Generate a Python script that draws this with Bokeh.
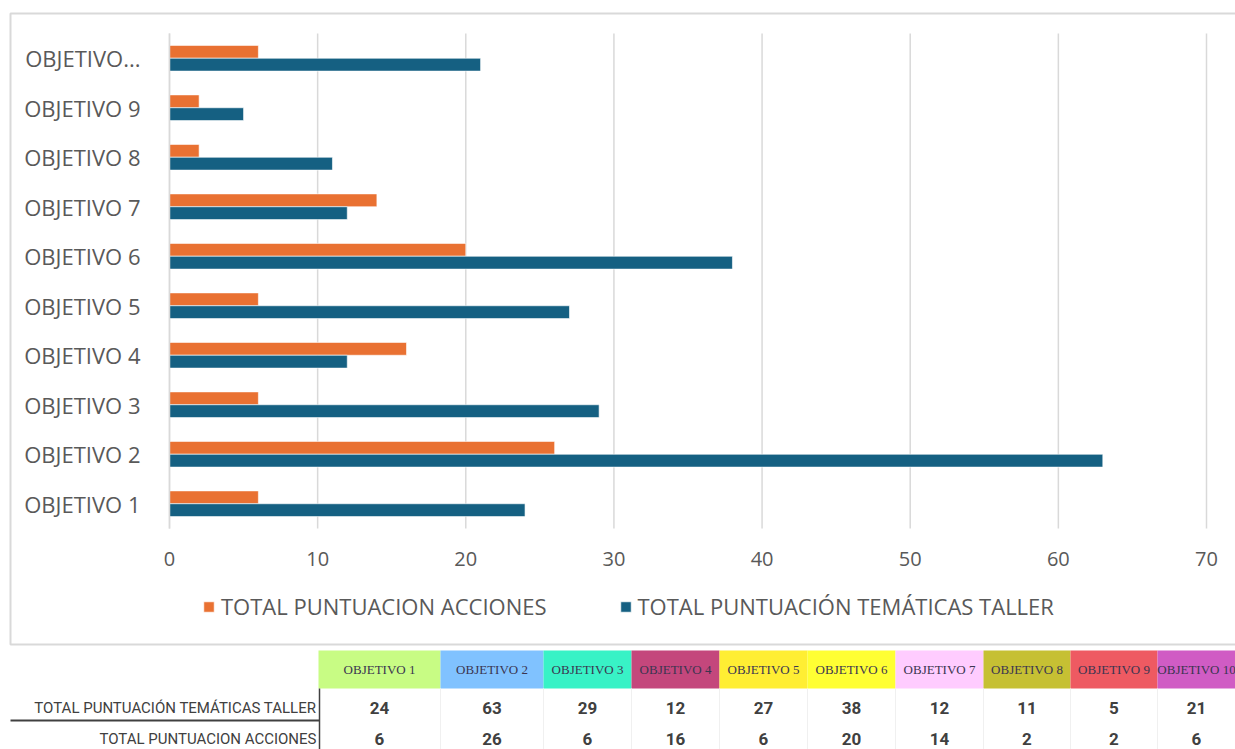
from bokeh.plotting import figure
from bokeh.models import (ColumnDataSource, Range1d, FixedTicker, Legend, LegendItem)
from bokeh.transform import dodge
from bokeh.core.properties import value
from bokeh.embed import file_html
from bokeh.resources import INLINE

# ---------------- data ----------------
CATEGORY_LABELS = ["OBJETIVO 1", "OBJETIVO 2", "OBJETIVO 3", "OBJETIVO 4", "OBJETIVO 5",
                   "OBJETIVO 6", "OBJETIVO 7", "OBJETIVO 8", "OBJETIVO 9", "OBJETIVO..."]
TABLE_HEADERS = ["OBJETIVO 1", "OBJETIVO 2", "OBJETIVO 3", "OBJETIVO 4", "OBJETIVO 5",
                 "OBJETIVO 6", "OBJETIVO 7", "OBJETIVO 8", "OBJETIVO 9", "OBJETIVO 10"]
TEMATICAS_TALLER = [24, 63, 29, 12, 27, 38, 12, 11, 5, 21]
ACCIONES = [6, 26, 6, 16, 6, 20, 14, 2, 2, 6]
X_TICKS = [0, 10, 20, 30, 40, 50, 60, 70]
SERIES_NAMES = ["TOTAL PUNTUACION ACCIONES", "TOTAL PUNTUACIÓN TEMÁTICAS TALLER"]
ROW_LABELS = ["TOTAL PUNTUACIÓN TEMÁTICAS TALLER", "TOTAL PUNTUACION ACCIONES"]

# ---------------- styles ----------------
ORANGE = "#E97132"
BLUE = "#156082"
TEXT = "#595959"
GRID = "#D9D9D9"
HEADER_COLORS = ["#C8FC84", "#80C2FF", "#38F2C6", "#C4477C", "#FFEE33",
                 "#FFFF33", "#FFCCFF", "#C6C033", "#EE5A62", "#D05CC4"]
FONT = "Open Sans"
TABLE_FONT = "Roboto"

# ---------------- layout (pixels) ----------------
W, H = 1235, 749
X_AXIS_LEFT_PX, X_AXIS_RIGHT_PX = 169, 1206
PLOT_TOP_PX, PLOT_BOTTOM_PX = 33, 528
N = len(CATEGORY_LABELS)
X_MAX = X_TICKS[-1]
px_x = (X_AXIS_RIGHT_PX - X_AXIS_LEFT_PX) / X_MAX
px_y = (PLOT_BOTTOM_PX - PLOT_TOP_PX) / N

p = figure(width=W, height=H,
           x_range=Range1d(-X_AXIS_LEFT_PX / px_x, (W - X_AXIS_LEFT_PX) / px_x),
           y_range=Range1d(-(H - PLOT_BOTTOM_PX) / px_y, PLOT_BOTTOM_PX / px_y),
           output_backend="svg", toolbar_location=None, min_border=0)
p.outline_line_color = None
p.background_fill_color = "white"
p.border_fill_color = "white"
p.extra_x_ranges = {"px": Range1d(0, W)}
p.extra_y_ranges = {"px": Range1d(H, 0)}
p.grid.visible = False

# chart box border
p.quad(left=[10], right=[W + 20], top=[13], bottom=[644], x_range_name="px", y_range_name="px",
       fill_color=None, line_color=GRID, line_width=2)

# vertical grid lines at the x ticks, spanning the category area
p.segment(x0=X_TICKS, x1=X_TICKS, y0=[0] * len(X_TICKS), y1=[N] * len(X_TICKS),
          line_color=GRID, line_width=1.5)

pos = [i + 0.5 for i in range(N)]
src = ColumnDataSource(dict(pos=pos, acc=ACCIONES, tem=TEMATICAS_TALLER))
r_acc = p.hbar(y=dodge("pos", 0.13), left=0, right="acc", height=0.26,
               fill_color=ORANGE, line_color="white", line_alpha=0.6, line_width=1, source=src)
r_tem = p.hbar(y=dodge("pos", -0.13), left=0, right="tem", height=0.26,
               fill_color=BLUE, line_color="white", line_alpha=0.6, line_width=1, source=src)

# axes placed at fixed data locations
xa = p.xaxis[0]
xa.fixed_location = 0
xa.bounds = (0, X_MAX)
xa.ticker = FixedTicker(ticks=X_TICKS)
xa.axis_line_color = None
xa.major_tick_line_color = None
xa.minor_tick_line_color = None
xa.major_label_text_font = FONT
xa.major_label_text_font_size = "20px"
xa.major_label_text_color = TEXT
xa.major_label_standoff = 17

ya = p.yaxis[0]
ya.fixed_location = 0
ya.bounds = (0, N)
ya.ticker = FixedTicker(ticks=pos)
ya.major_label_overrides = {pp: lab for pp, lab in zip(pos, CATEGORY_LABELS)}
ya.axis_line_color = GRID
ya.axis_line_width = 1.5
ya.major_tick_line_color = None
ya.minor_tick_line_color = None
ya.major_label_text_font = FONT
ya.major_label_text_font_size = "22px"
ya.major_label_text_color = TEXT
ya.major_label_standoff = 23

legend = Legend(items=[LegendItem(label=SERIES_NAMES[0], renderers=[r_acc]),
                       LegendItem(label=SERIES_NAMES[1], renderers=[r_tem])],
                orientation="horizontal", location=(202, 128),
                padding=0, margin=0, border_line_alpha=0, background_fill_alpha=0,
                glyph_width=13, glyph_height=13, label_standoff=6, spacing=72,
                label_text_font=FONT, label_text_font_size="22px", label_text_color=TEXT)
p.add_layout(legend)

# ---------------- data table below the chart ----------------
COL_EDGES = [318, 440, 543, 631, 719, 807, 895, 983, 1070, 1157, W]
centers = [(a + b) / 2 for a, b in zip(COL_EDGES[:-1], COL_EDGES[1:])]
HEAD_TOP, HEAD_BOTTOM = 650, 688
ROW_Y = [707, 738]
LABEL_RIGHT = 316
SEP_X = 319
SEP_Y = 720

p.quad(left=COL_EDGES[:-1], right=COL_EDGES[1:], top=HEAD_TOP, bottom=HEAD_BOTTOM,
       x_range_name="px", y_range_name="px", fill_color=HEADER_COLORS, line_color=None)
# faint column separators in the value rows
p.segment(x0=COL_EDGES[1:-1], x1=COL_EDGES[1:-1], y0=[HEAD_BOTTOM] * (len(COL_EDGES) - 2),
          y1=[H] * (len(COL_EDGES) - 2), x_range_name="px", y_range_name="px",
          line_color="#F0F0F0", line_width=1)
p.text(x=centers, y=[(HEAD_TOP + HEAD_BOTTOM) / 2] * len(centers), text=TABLE_HEADERS,
       x_range_name="px", y_range_name="px",
       text_align="center", text_baseline="middle",
       text_font=value("Liberation Serif"), text_font_size="13px", text_color="#3B3550")
p.text(x=centers, y=[ROW_Y[0]] * len(centers), text=[str(v) for v in TEMATICAS_TALLER],
       x_range_name="px", y_range_name="px",
       text_align="center", text_baseline="middle", text_font=value(TABLE_FONT),
       text_font_style="bold", text_font_size="17px", text_color="#404040")
p.text(x=centers, y=[ROW_Y[1]] * len(centers), text=[str(v) for v in ACCIONES],
       x_range_name="px", y_range_name="px",
       text_align="center", text_baseline="middle", text_font=value(TABLE_FONT),
       text_font_style="bold", text_font_size="17px", text_color="#404040")
p.text(x=[LABEL_RIGHT] * 2, y=ROW_Y, text=ROW_LABELS,
       x_range_name="px", y_range_name="px",
       text_align="right", text_baseline="middle", text_font=value(TABLE_FONT),
       text_font_size="15px", text_color="#404040")
p.segment(x0=[10], y0=[SEP_Y], x1=[SEP_X], y1=[SEP_Y], x_range_name="px", y_range_name="px",
          line_color="#404040", line_width=2)
p.segment(x0=[SEP_X], y0=[HEAD_BOTTOM], x1=[SEP_X], y1=[H], x_range_name="px",
          y_range_name="px", line_color="#404040", line_width=1.5)

open("out.html", "w").write(file_html(p, INLINE))
